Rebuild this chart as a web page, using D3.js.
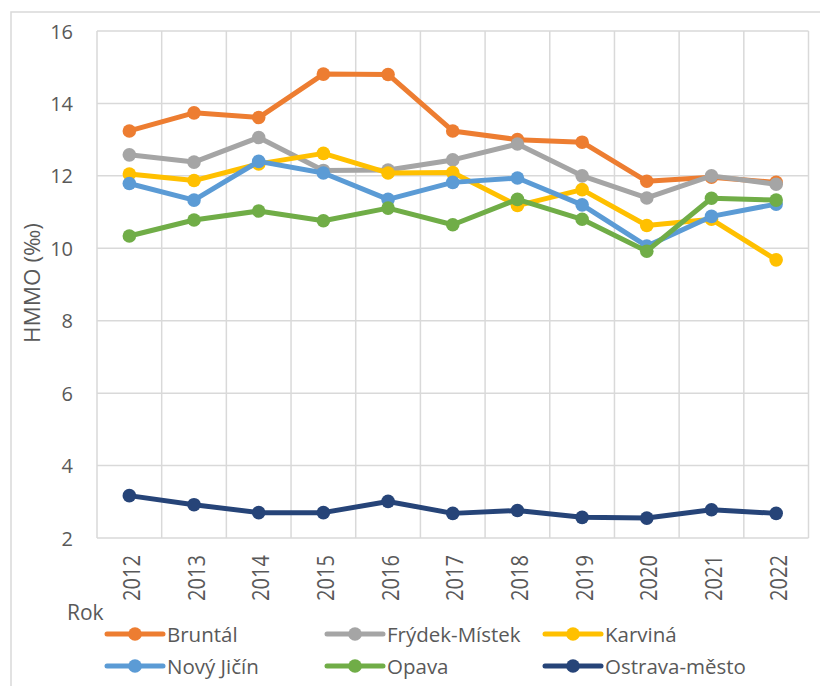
<!DOCTYPE html>
<html>
<head>
<meta charset="utf-8">
<script src="https://cdn.jsdelivr.net/npm/d3@7"></script>
<style>
  html, body { margin: 0; padding: 0; background: #fff; }
  svg { display: block; }
  text { font-family: "Open Sans", "Noto Sans", sans-serif; fill: #595959; }
</style>
</head>
<body>
<svg id="chart" width="820" height="686"></svg>
<script>
// Years on the category axis
const years = ["2012","2013","2014","2015","2016","2017","2018","2019","2020","2021","2022"];

// HMMO (‰) per district
const bruntal   = [13.24, 13.74, 13.61, 14.81, 14.80, 13.24, 13.00, 12.93, 11.85, 11.96, 11.82];
const frydek    = [12.58, 12.38, 13.06, 12.15, 12.16, 12.44, 12.88, 12.00, 11.39, 12.00, 11.77];
const karvina   = [12.05, 11.87, 12.33, 12.62, 12.08, 12.09, 11.18, 11.62, 10.63, 10.80, 9.68];
const novyJicin = [11.79, 11.33, 12.40, 12.08, 11.35, 11.82, 11.94, 11.20, 10.06, 10.88, 11.22];
const opava     = [10.34, 10.78, 11.03, 10.76, 11.11, 10.65, 11.35, 10.80, 9.92, 11.38, 11.33];
const ostrava   = [3.17, 2.92, 2.70, 2.70, 3.01, 2.68, 2.76, 2.57, 2.55, 2.78, 2.68];

const seriesNames  = ["Bruntál", "Frýdek-Místek", "Karviná", "Nový Jičín", "Opava", "Ostrava-město"];
const seriesValues = [bruntal, frydek, karvina, novyJicin, opava, ostrava];
const seriesColors = ["#ED7D31", "#A5A5A5", "#FFC000", "#5B9BD5", "#70AD47", "#264478"];

const yTicks = [2, 4, 6, 8, 10, 12, 14, 16];

const svg = d3.select("#chart");

// outer chart frame
svg.append("rect")
  .attr("x", 11).attr("y", 12)
  .attr("width", 830).attr("height", 700)
  .attr("fill", "none").attr("stroke", "#d9d9d9").attr("stroke-width", 1.5);

const plot = { left: 97, top: 31, right: 808.5, bottom: 538 };

const x = d3.scaleBand().domain(years).range([plot.left, plot.right]).padding(0);
const y = d3.scaleLinear().domain([2, 16]).range([plot.bottom, plot.top]);

const grid = svg.append("g");
// horizontal gridlines
grid.selectAll("line.h").data(yTicks).join("line")
  .attr("x1", plot.left).attr("x2", plot.right)
  .attr("y1", d => y(d)).attr("y2", d => y(d))
  .attr("stroke", "#d9d9d9").attr("stroke-width", 1.5);
// vertical gridlines at category boundaries
const bounds = years.map(d => x(d)).concat([plot.right]);
grid.selectAll("line.v").data(bounds).join("line")
  .attr("x1", d => d).attr("x2", d => d)
  .attr("y1", plot.top).attr("y2", plot.bottom)
  .attr("stroke", "#d9d9d9").attr("stroke-width", 1.5);

// y axis labels
const yAxis = svg.append("g")
  .attr("transform", `translate(${plot.left - 24},0)`)
  .call(d3.axisLeft(y).tickValues(yTicks).tickSize(0).tickPadding(0));
yAxis.select(".domain").remove();
yAxis.selectAll("text")
  .attr("font-size", 20).attr("fill", "#595959")
  .style("font-family", "'Open Sans', sans-serif")
  .attr("dy", "0.35em");

// x axis labels, rotated
const xAxis = svg.append("g")
  .attr("transform", `translate(0,${plot.bottom + 17})`)
  .call(d3.axisBottom(x).tickSize(0).tickPadding(0));
xAxis.select(".domain").remove();
xAxis.selectAll("text")
  .attr("font-size", 24).attr("fill", "#595959")
  .style("font-family", "'Open Sans', sans-serif")
  .attr("text-anchor", "end")
  .attr("dy", null).attr("y", 0).attr("x", 0)
  .attr("textLength", 46).attr("lengthAdjust", "spacingAndGlyphs")
  .attr("dominant-baseline", "central")
  .attr("transform", "translate(1,0) rotate(-90)");

// axis titles
svg.append("text")
  .attr("transform", `translate(40,283) rotate(-90)`)
  .attr("text-anchor", "middle")
  .attr("font-size", 21)
  .attr("textLength", 120).attr("lengthAdjust", "spacingAndGlyphs")
  .text("HMMO (‰)");

svg.append("text")
  .attr("x", 67).attr("y", 620)
  .attr("font-size", 21)
  .text("Rok");

// series lines and markers
const line = d3.line()
  .x((d, i) => x(years[i]) + x.bandwidth() / 2)
  .y(d => y(d));

seriesValues.forEach((vals, s) => {
  const g = svg.append("g");
  g.append("path")
    .attr("d", line(vals))
    .attr("fill", "none")
    .attr("stroke", seriesColors[s])
    .attr("stroke-width", 5)
    .attr("stroke-linejoin", "round");
  g.selectAll("circle").data(vals).join("circle")
    .attr("cx", (d, i) => x(years[i]) + x.bandwidth() / 2)
    .attr("cy", d => y(d))
    .attr("r", 6.8)
    .attr("fill", seriesColors[s]);
});

// legend
const legendCols = [107, 327, 545];
const legendRows = [634, 666];
seriesNames.forEach((name, i) => {
  const lx = legendCols[i % 3];
  const ly = legendRows[Math.floor(i / 3)];
  const g = svg.append("g");
  g.append("line")
    .attr("x1", lx).attr("x2", lx + 56)
    .attr("y1", ly).attr("y2", ly)
    .attr("stroke", seriesColors[i]).attr("stroke-width", 5)
    .attr("stroke-linecap", "round");
  g.append("circle")
    .attr("cx", lx + 28).attr("cy", ly).attr("r", 6.8)
    .attr("fill", seriesColors[i]);
  g.append("text")
    .attr("x", lx + 60).attr("y", ly)
    .attr("dominant-baseline", "central")
    .attr("font-size", 20.5)
    .text(name);
});
</script>
</body>
</html>
